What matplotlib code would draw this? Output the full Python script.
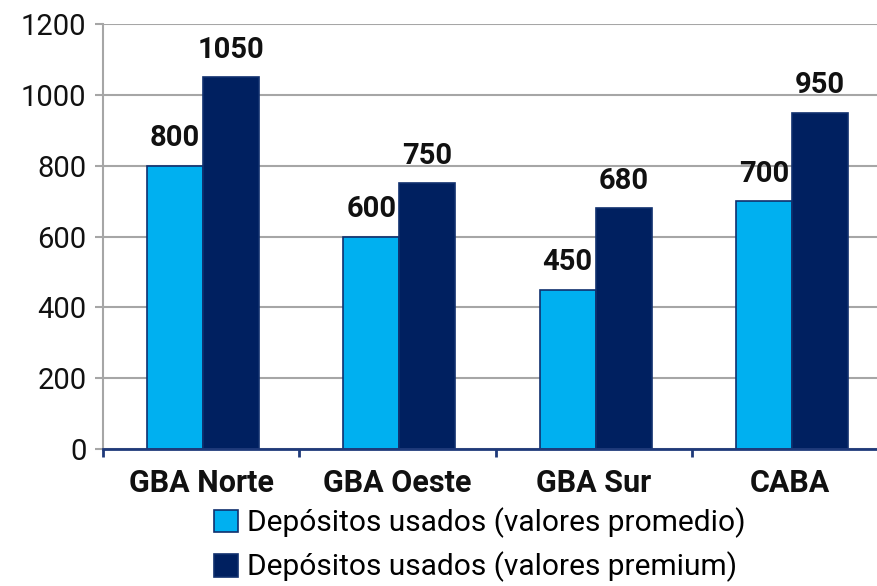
import matplotlib

matplotlib.use("Agg")
import matplotlib.pyplot as plt
from matplotlib.patches import Patch
import numpy as np

plt.rcParams["font.family"] = ["Roboto", "DejaVu Sans"]

categories = ["GBA Norte", "GBA Oeste", "GBA Sur", "CABA"]
promedio = [800, 600, 450, 700]
premium = [1050, 750, 680, 950]
labels = ["Depósitos usados (valores promedio)", "Depósitos usados (valores premium)"]
yticks = [0, 200, 400, 600, 800, 1000, 1200]

LIGHT = "#00B0F0"
DARK = "#002060"
EDGE = "#10306e"
GRID = "#a6a6a6"

fig = plt.figure(figsize=(8.77, 5.86), dpi=100)
ax = fig.add_axes([103 / 877, 1 - 449 / 586, 785 / 877, 425 / 586])

x = np.arange(len(categories))
w = 0.285
b1 = ax.bar(x - w / 2 + 0.01, promedio, w, color=LIGHT, edgecolor=EDGE, linewidth=1.2, zorder=3)
b2 = ax.bar(x + w / 2 + 0.01, premium, w, color=DARK, edgecolor=EDGE, linewidth=1.2, zorder=3)

for bars, vals in ((b1, promedio), (b2, premium)):
    for r, v in zip(bars, vals):
        ax.annotate(str(v), (r.get_x() + r.get_width() / 2, v), xytext=(0, 9.5),
                    textcoords="offset points", ha="center", va="bottom",
                    fontsize=21, fontweight="bold", color="#111111")

ax.set_ylim(0, 1200)
ax.set_xlim(-0.5, len(categories) - 0.5)
ax.set_yticks(yticks)
ax.yaxis.grid(True, color=GRID, linewidth=1.5, zorder=0)
ax.tick_params(axis="y", labelsize=21, length=6, width=1.5, color=GRID, pad=6, labelcolor="#111111")

ax.set_xticks(x)
ax.set_xticklabels(categories, fontsize=22, fontweight="bold", color="#111111")
ax.set_xticks(np.arange(len(categories) + 1) - 0.5, minor=True)
ax.tick_params(axis="x", which="major", length=0, pad=14)
ax.tick_params(axis="x", which="minor", length=6, width=2, color="#1f3a7a")

for s in ("top", "right"):
    ax.spines[s].set_visible(False)
ax.spines["left"].set_color(GRID)
ax.spines["left"].set_linewidth(1.5)
ax.spines["bottom"].set_color("#1f3a7a")
ax.spines["bottom"].set_linewidth(2)
ax.spines["bottom"].set_zorder(4)

handles = [Patch(facecolor=LIGHT, edgecolor=EDGE, linewidth=1.2),
           Patch(facecolor=DARK, edgecolor=EDGE, linewidth=1.2)]
fig.legend(handles, labels, loc="center", bbox_to_anchor=(480 / 877, 1 - 545 / 586),
           ncol=1, frameon=False, fontsize=21.5, handlelength=0.8, handleheight=0.8,
           handletextpad=0.3, labelspacing=0.45, borderpad=0)

fig.savefig("out.png", dpi=100, facecolor="white")
